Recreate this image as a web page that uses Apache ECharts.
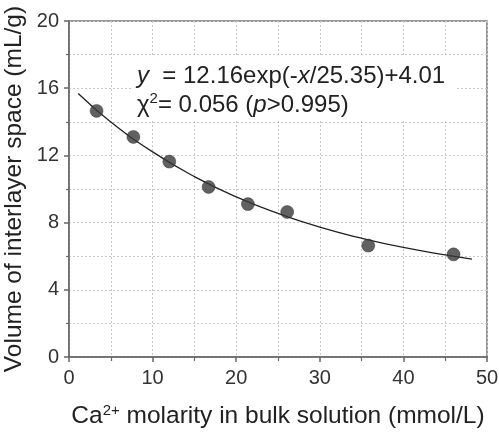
<!DOCTYPE html>
<html><head><meta charset="utf-8">
<script src="https://cdn.jsdelivr.net/npm/echarts@6/dist/echarts.min.js"></script>
<style>html,body{margin:0;padding:0;background:#fff}#c{width:499px;height:434px}</style>
</head><body><div id="c"></div>
<script>
var pointX = [3.3, 7.7, 12.0, 16.7, 21.4, 26.1, 35.8, 46.0];
var pointY = [14.65, 13.1, 11.63, 10.12, 9.1, 8.63, 6.63, 6.11];
var fitX = [1.1, 5, 10, 15, 20, 25, 30, 35, 40, 45, 48.2];
var fitY = [15.68, 13.99, 12.21, 10.74, 9.53, 8.55, 7.73, 7.07, 6.52, 6.08, 5.83];
var xTicks = [0, 10, 20, 30, 40, 50];
var yTicks = [0, 4, 8, 12, 16, 20];

var FONT = 'Liberation Sans, Arial, sans-serif';
var chart = echarts.init(document.getElementById('c'));
var gridLine = {show: true, lineStyle: {color: '#c8c8c8', type: [2, 2], width: 1}};
chart.setOption({
  animation: false,
  backgroundColor: '#fff',
  grid: {left: 69, right: 12, top: 21, bottom: 77, containLabel: false, outerBoundsMode: 'none',
         show: true, borderColor: '#777', borderWidth: 1.5, backgroundColor: 'transparent'},
  xAxis: {
    type: 'value', min: xTicks[0], max: xTicks[xTicks.length - 1], interval: 10,
    axisLine: {show: true, onZero: false, lineStyle: {color: '#666', width: 1.5}},
    axisTick: {show: true, inside: false, length: 5, lineStyle: {color: '#666', width: 1.5}},
    minorTick: {show: true, splitNumber: 2, length: 4, lineStyle: {color: '#666', width: 1.2}},
    splitLine: gridLine,
    minorSplitLine: gridLine,
    axisLabel: {color: '#333', fontSize: 20, fontFamily: FONT, margin: 11},
    name: '{n|Ca}{s|2+}{n| molarity in bulk solution (mmol/L)}',
    nameLocation: 'middle', nameGap: 46, nameMoveOverlap: false,
    nameTextStyle: {rich: {
      n: {fontSize: 24.5, fontFamily: FONT, color: '#222'},
      s: {fontSize: 15, fontFamily: FONT, color: '#222', verticalAlign: 'top', padding: [0, 0, 12, 0]}
    }}
  },
  yAxis: {
    type: 'value', min: yTicks[0], max: yTicks[yTicks.length - 1], interval: 4,
    axisLine: {show: true, onZero: false, lineStyle: {color: '#666', width: 1.5}},
    axisTick: {show: true, inside: false, length: 5, lineStyle: {color: '#666', width: 1.5}},
    minorTick: {show: true, splitNumber: 2, length: 3, lineStyle: {color: '#666', width: 1.2}},
    splitLine: gridLine,
    minorSplitLine: gridLine,
    axisLabel: {color: '#333', fontSize: 20, fontFamily: FONT, margin: 10},
    name: 'Volume of interlayer space (mL/g)',
    nameLocation: 'middle', nameGap: 38, nameMoveOverlap: false,
    nameTextStyle: {fontSize: 24.5, fontFamily: FONT, color: '#222', lineHeight: 34}
  },
  graphic: [
    {type: 'rect', z: 100, shape: {x: 133, y: 55, width: 322, height: 66}, style: {fill: '#fff'}},
    {type: 'text', z: 101, x: 137, y: 62, style: {
      text: '{i|y}{n|  = 12.16exp(-}{i|x}{n|/25.35)+4.01}\n{n|\u03c7}{s|2}{n|= 0.056 (}{i|p}{n|>0.995)}',
      rich: {
        n: {fontSize: 24, fontFamily: FONT, fill: '#222', lineHeight: 29},
        i: {fontSize: 24, fontFamily: FONT, fontStyle: 'italic', fill: '#222', lineHeight: 29},
        s: {fontSize: 15, fontFamily: FONT, fill: '#222', verticalAlign: 'top', lineHeight: 29, padding: [0, 0, 12, 0]}
      }
    }}
  ],
  series: [
    {type: 'line', data: fitX.map(function (x, i) { return [x, fitY[i]]; }), smooth: true, showSymbol: false,
     lineStyle: {color: '#222', width: 1.3}, z: 3},
    {type: 'scatter', data: pointX.map(function (x, i) { return [x, pointY[i]]; }), symbolSize: 13,
     itemStyle: {color: '#3a3a3a', borderColor: '#222', borderWidth: 0.5}, z: 4}
  ]
});
</script></body></html>
